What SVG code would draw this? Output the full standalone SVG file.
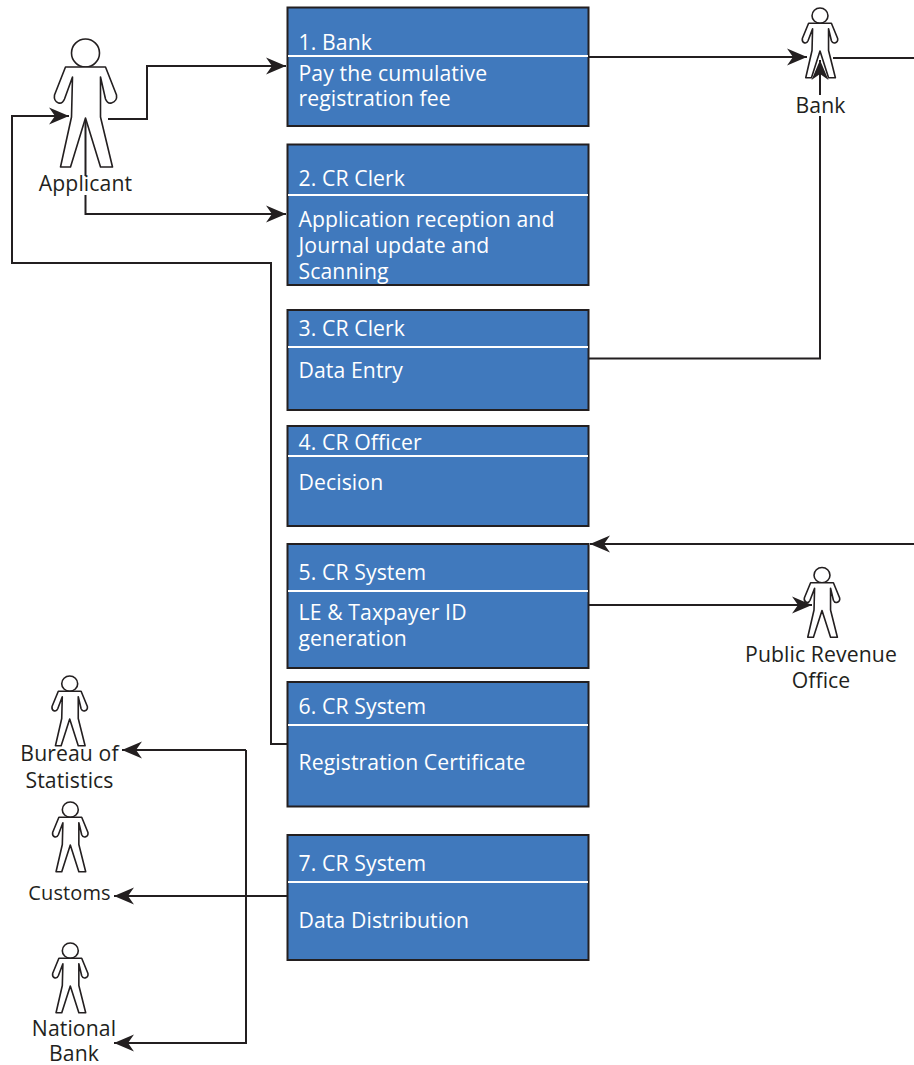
<svg xmlns="http://www.w3.org/2000/svg" xmlns:xlink="http://www.w3.org/1999/xlink" width="914" height="1065" viewBox="0 0 914 1065">
<style>
.box{fill:#4079bd;stroke:#231f20;stroke-width:2}
.div{stroke:#fff;stroke-width:2;fill:none}
.bt{font-family:"Open Sans","Noto Sans",sans-serif;font-size:21.200px;letter-spacing:.1px;fill:#fff}
.lb{font-family:"Open Sans","Noto Sans",sans-serif;font-size:21.200px;letter-spacing:.1px;fill:#231f20;text-anchor:middle}
.c{fill:none;stroke:#231f20;stroke-width:2;stroke-linejoin:miter}
.a{marker-end:url(#arr)}
.fig{fill:#fff;stroke:#231f20;stroke-width:1.6;vector-effect:non-scaling-stroke;stroke-linejoin:round}
</style>
<defs>
<marker id="arr" markerUnits="userSpaceOnUse" markerWidth="22" markerHeight="20" refX="20" refY="9.500" orient="auto"><path d="M20,9.500 L0,1 L6,9.500 L0,18 Z" fill="#231f20"/></marker>
<g id="person">
<circle class="fig" cx="0" cy="14" r="14"/>
<path class="fig" d="M-20,28 H20 L31,56 Q32,62 26,64 Q22,65 20,60 L15,38 L15,78 L27,128 H15 L0,79 L-15,128 H-25 L-14,78 L-13,38 L-21,60 Q-23,65 -27,64 Q-32,62 -31,56 Z"/>
</g>
</defs>
<g id="connectors">
<path class="c a" d="M108,119 H147 V66 H286"/>
<path class="c" d="M85.500,118 V176"/>
<path class="c a" d="M85.500,195 V214 H286"/>
<path class="c a" d="M287,744 H271 V263 H12 V116 H69"/>
<path class="c a" d="M588,57 H807"/>
<path class="c" d="M833,58 H914"/>
<path class="c" d="M588,358.500 H820 V116"/>
<path class="c a" d="M820,95 V60"/>
<path class="c a" d="M914,544 H590"/>
<path class="c a" d="M588,605 H812"/>
<path class="c a" d="M287,896 H114"/>
<path class="c a" d="M246,750 H122"/>
<path class="c a" d="M246,750 V1043 H114"/>
</g>
<g id="node-applicant"><use xlink:href="#person" transform="translate(85.500,39)"/><text class="lb" x="85.500" y="191">Applicant</text></g>
<g id="node-bank"><use xlink:href="#person" transform="translate(820,8) scale(.57,.545)"/><text class="lb" x="820.500" y="113">Bank</text></g>
<g id="node-pro"><use xlink:href="#person" transform="translate(822,567.500) scale(.57,.545)"/><text class="lb" x="821" y="662">Public Revenue</text><text class="lb" x="821" y="688">Office</text></g>
<g id="node-bureau"><use xlink:href="#person" transform="translate(69.700,676) scale(.57,.545)"/><text class="lb" x="69.500" y="761">Bureau of</text><text class="lb" x="69.500" y="788">Statistics</text></g>
<g id="node-customs"><use xlink:href="#person" transform="translate(70.300,802) scale(.57,.545)"/><text class="lb" x="69.500" y="900" style="font-size:20px">Customs</text></g>
<g id="node-national"><use xlink:href="#person" transform="translate(70.300,943) scale(.57,.545)"/><text class="lb" x="74" y="1036">National</text><text class="lb" x="74" y="1061">Bank</text></g>
<g id="node-1"><rect class="box" x="287.500" y="7.500" width="301" height="118.500"/><path class="div" d="M288,56 H588"/><text class="bt" x="298.500" y="49.500">1. Bank</text><text class="bt" x="298.500" y="80.500">Pay the cumulative</text><text class="bt" x="298.500" y="105.500">registration fee</text></g>
<g id="node-2"><rect class="box" x="287.500" y="144.500" width="301" height="140.500"/><path class="div" d="M288,195 H588"/><text class="bt" x="298.500" y="185.500">2. CR Clerk</text><text class="bt" x="298.500" y="226.500">Application reception and</text><text class="bt" x="298.500" y="252.500">Journal update and</text><text class="bt" x="298.500" y="278.500">Scanning</text></g>
<g id="node-3"><rect class="box" x="287.500" y="310" width="301" height="100"/><path class="div" d="M288,347 H588"/><text class="bt" x="298.500" y="335.500">3. CR Clerk</text><text class="bt" x="298.500" y="377.500">Data Entry</text></g>
<g id="node-4"><rect class="box" x="287.500" y="426" width="301" height="100"/><path class="div" d="M288,456 H588"/><text class="bt" x="298.500" y="449.500">4. CR Officer</text><text class="bt" x="298.500" y="489.500">Decision</text></g>
<g id="node-5"><rect class="box" x="287.500" y="544" width="301" height="124"/><path class="div" d="M288,591 H588"/><text class="bt" x="298.500" y="579.500">5. CR System</text><text class="bt" x="298.500" y="619.500">LE &amp; Taxpayer ID</text><text class="bt" x="298.500" y="645.500">generation</text></g>
<g id="node-6"><rect class="box" x="287.500" y="682" width="301" height="124.500"/><path class="div" d="M288,725 H588"/><text class="bt" x="298.500" y="713.500">6. CR System</text><text class="bt" x="298.500" y="769.500">Registration Certificate</text></g>
<g id="node-7"><rect class="box" x="287.500" y="835" width="301" height="125"/><path class="div" d="M288,882 H588"/><text class="bt" x="298.500" y="870.500">7. CR System</text><text class="bt" x="298.500" y="927.500">Data Distribution</text></g>
</svg>
